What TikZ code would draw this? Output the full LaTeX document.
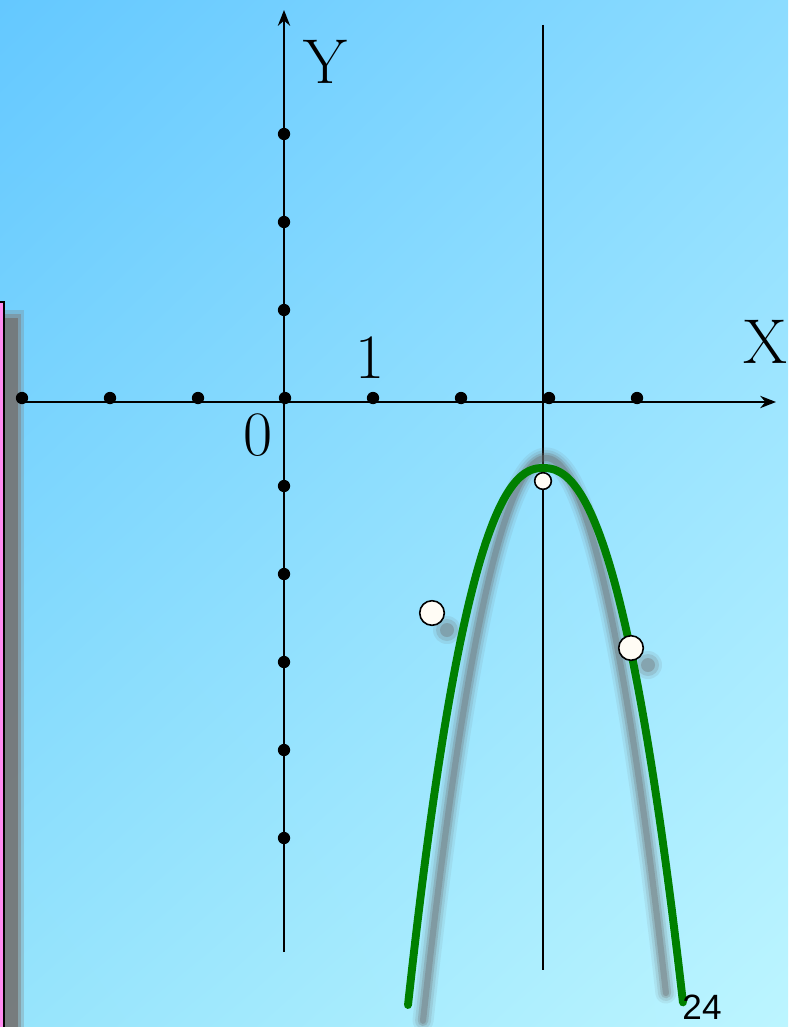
\documentclass[tikz,border=0pt]{standalone}
\usepackage{fontspec}
\newfontfamily\pagefont{Liberation Sans}
\usetikzlibrary{arrows.meta, shadings}

\definecolor{skyA}{RGB}{100,200,255}
\definecolor{skyB}{RGB}{140,220,255}
\definecolor{skyC}{RGB}{150,228,252}
\definecolor{skyD}{RGB}{188,245,255}
\definecolor{boxpink}{RGB}{255,140,240}
\definecolor{curvegreen}{RGB}{0,128,0}
\definecolor{ptwhite}{RGB}{255,252,245}

\tikzset{
    axis/.style={line width=1.15pt, -{Stealth[length=9pt, width=7pt]}},
    dot/.style={circle, fill=black, inner sep=0pt, minimum size=7pt},
    ptmark/.style={circle, draw=black, fill=ptwhite, line width=0.9pt, inner sep=0pt, minimum size=#1},
    curve/.style={line width=4.5pt, curvegreen, line cap=round},
    halo/.style={line cap=round, gray!85!black, opacity=#1},
    big/.style={font=\fontsize{36}{40}\selectfont}
}

\begin{document}
\begin{tikzpicture}[x=0.02cm, y=-0.02cm]
    % background
    \useasboundingbox (0,0) rectangle (788,1027);
    \shade[upper left=skyA, upper right=skyB, lower left=skyC, lower right=skyD] (0,0) rectangle (788,1027);

    % pink box at the left edge with its shadow
    \fill[gray, opacity=0.3] (5,310) rectangle (24,1027);
    \fill[gray, opacity=0.5] (5,314) rectangle (21,1027);
    \fill[gray!90!black, opacity=0.8] (5,318) rectangle (18,1027);
    \filldraw[fill=boxpink, draw=black, line width=1.2pt] (-10,302) rectangle (4,1040);

    % axes
    \coordinate (xs) at (22,402);
    \coordinate (xe) at (776,402);
    \coordinate (ys) at (284,952);
    \coordinate (ye) at (284,10);
    \draw[axis] (xs) -- (xe);
    \draw[axis] (ys) -- (ye);

    % line x = 3
    \coordinate (vt) at (543,25);
    \coordinate (vb) at (543,970);
    \draw[line width=0.85pt] (vt) -- (vb);

    % unit dots
    \foreach \i/\x in {0/22, 1/110, 2/198, 3/285, 4/373, 5/461, 6/549, 7/637}
        \node[dot] (xd\i) at (\x,398) {};
    \foreach \i/\y in {1/134, 2/222, 3/310, 4/486, 5/574, 6/662, 7/750, 8/838}
        \node[dot] (yd\i) at (284,\y) {};

    % labels
    \node[big] (ylab) at (325,62) {Y};
    \node[big] (xlab) at (765,342) {X};
    \node[big] (one) at (370,358) {1};
    \node[big] (zero) at (258,435) {0};

    % shadow of the parabola
    \foreach \w/\o in {12/0.1, 9/0.15, 6/0.25, 3.5/0.35}
        \draw[halo=\o, line width=\w pt]
            plot[domain=1.23:0, samples=50] ({546-100*\x},{458+372*\x*\x})
            -- plot[domain=0:1.2, samples=50] ({546+100*\x},{458+372*\x*\x});

    % shadows of the points
    \foreach \r/\o in {14/0.12, 11/0.2, 7/0.35} {
        \fill[halo=\o] (447,630) circle (\r);
        \fill[halo=\o] (648,665) circle (\r);
    }

    % parabola
    \draw[curve]
        plot[domain=1.35:0.005, samples=60] ({543-100*\x},{468+269.3*pow(\x,2.3)})
        -- plot[domain=0.005:1.4, samples=60] ({543+100*\x},{468+246.7*pow(\x,2.3)});

    % points
    \node[ptmark=14pt] (pa) at (432,613) {};
    \node[ptmark=14pt] (pb) at (631,648) {};
    \node[ptmark=9.5pt] (pv) at (543,481) {};

    % page number
    \node[font=\pagefont\fontsize{20}{22}\selectfont, inner sep=0pt] (page) at (702,1007) {24};
\end{tikzpicture}
\end{document}
